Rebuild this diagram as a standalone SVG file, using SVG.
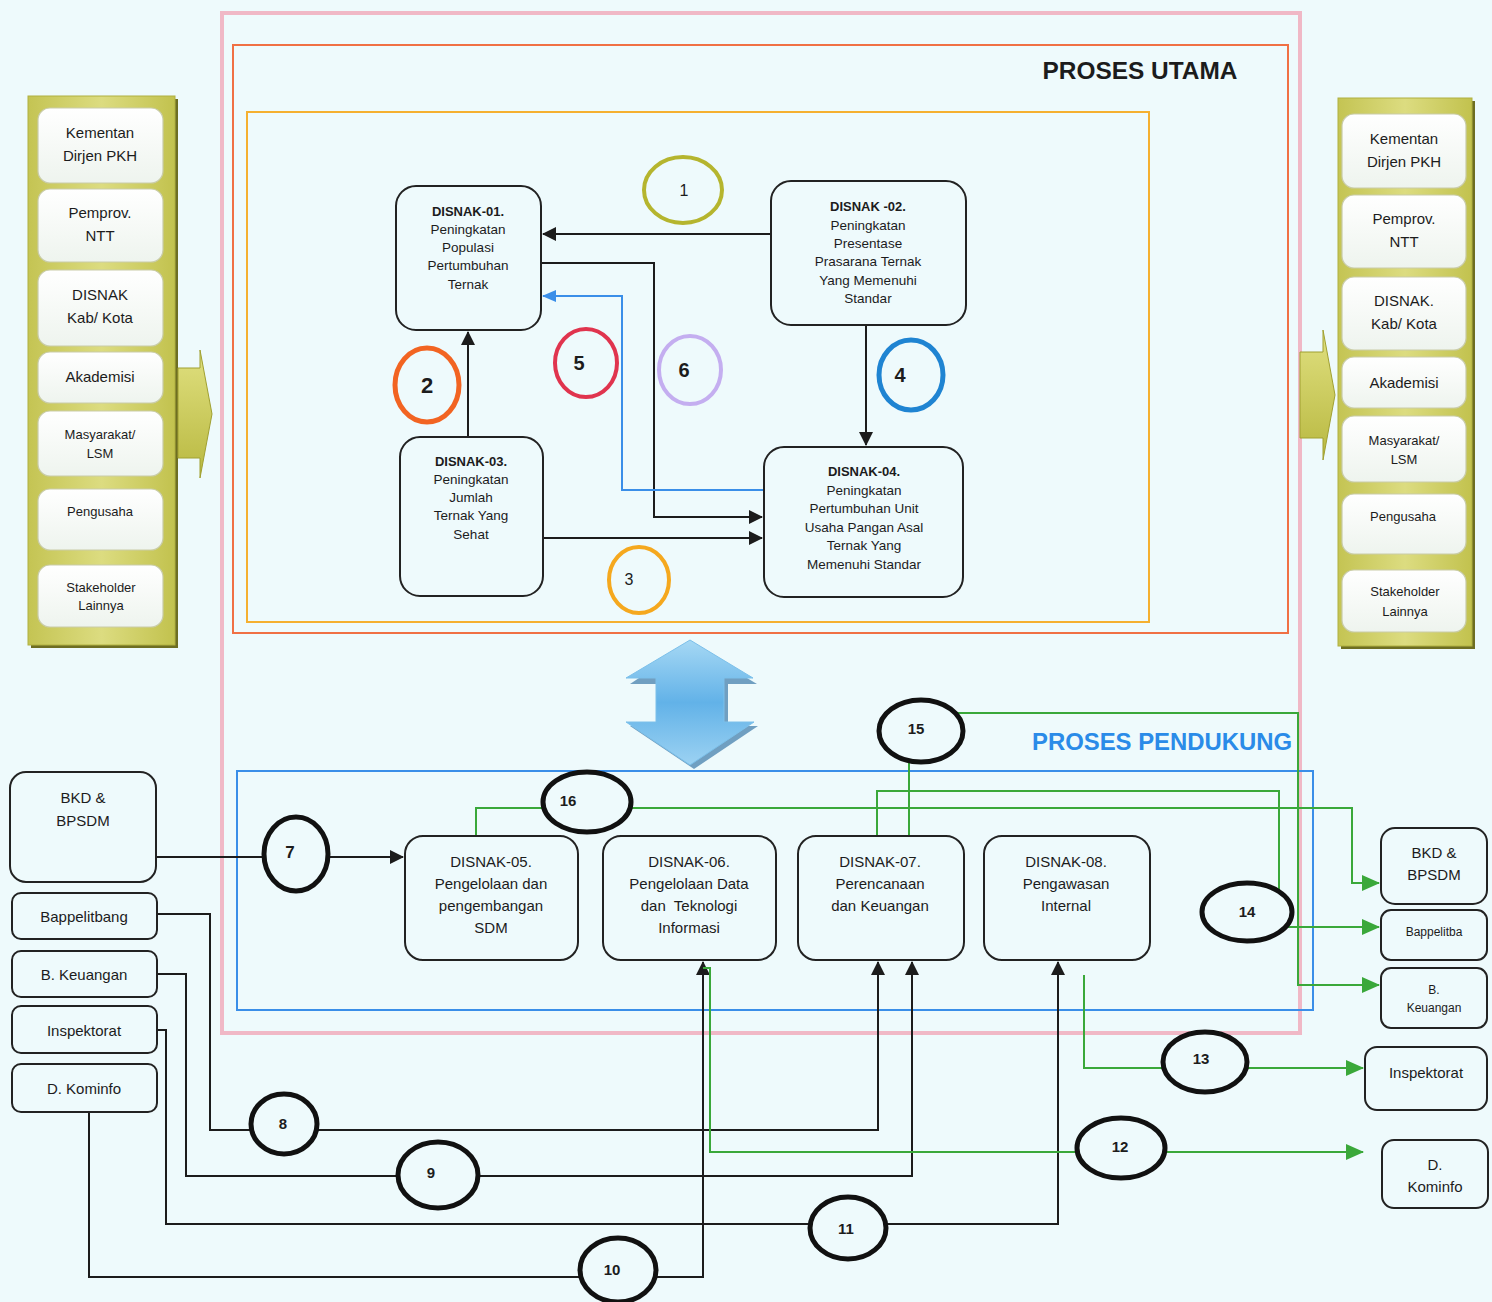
<svg xmlns="http://www.w3.org/2000/svg" width="1492" height="1302" viewBox="0 0 1492 1302">
<defs>
<style>
.t{font-family:"Liberation Sans",Arial,sans-serif;fill:#1c1c1c;text-anchor:middle}
.b{font-weight:bold}
.node{fill:#eefafc;stroke:#222;stroke-width:2}
.side{fill:url(#boxg);stroke:#c9cca8;stroke-width:1.2}
.con{fill:none;stroke:#1c1c1c;stroke-width:2}
.gcon{fill:none;stroke:#3aa83a;stroke-width:2}
.lab{fill:#eefafc;stroke:#111;stroke-width:5}
</style>
<linearGradient id="panelg" x1="0" y1="0" x2="1" y2="0">
<stop offset="0" stop-color="#c4c453"/><stop offset="0.5" stop-color="#dcdc80"/><stop offset="1" stop-color="#c2c24e"/>
</linearGradient>
<linearGradient id="boxg" x1="0" y1="0" x2="0" y2="1">
<stop offset="0" stop-color="#ffffff"/><stop offset="1" stop-color="#eef4ee"/>
</linearGradient>
<linearGradient id="arrg" x1="0" y1="0" x2="0" y2="1">
<stop offset="0" stop-color="#a6d8f4"/><stop offset="0.5" stop-color="#62b2e8"/><stop offset="1" stop-color="#9cd2f2"/>
</linearGradient>
<linearGradient id="olg" x1="0" y1="0" x2="0" y2="1">
<stop offset="0" stop-color="#e0e080"/><stop offset="1" stop-color="#b8b840"/>
</linearGradient>
<marker id="ab" markerUnits="userSpaceOnUse" markerWidth="14" markerHeight="14" refX="13" refY="7" orient="auto">
<path d="M0,0 L14,7 L0,14 z" fill="#1c1c1c"/>
</marker>
<marker id="abl" markerUnits="userSpaceOnUse" markerWidth="14" markerHeight="12" refX="13" refY="6" orient="auto">
<path d="M0,0 L14,6 L0,12 z" fill="#3a8ee8"/>
</marker>
<marker id="ag" markerUnits="userSpaceOnUse" markerWidth="18" markerHeight="16" refX="17" refY="8" orient="auto">
<path d="M0,0 L18,8 L0,16 z" fill="#3aa83a"/>
</marker>
</defs>
<rect x="0" y="0" width="1492" height="1302" fill="#eefafc"/>

<g id="frames">
<rect x="222" y="13" width="1078" height="1020" fill="none" stroke="#f0b8c6" stroke-width="4"/>
<rect x="233" y="45" width="1055" height="588" fill="none" stroke="#f07044" stroke-width="2"/>
<rect x="247" y="112" width="902" height="510" fill="none" stroke="#f5b030" stroke-width="2"/>
<rect x="237" y="771" width="1076" height="239" fill="none" stroke="#3a8ee8" stroke-width="2"/>
<text class="t b" x="1140" y="79" font-size="24" textLength="195" lengthAdjust="spacingAndGlyphs" fill="#222">PROSES UTAMA</text>
<text class="t b" x="1162" y="750" font-size="24" textLength="260" lengthAdjust="spacingAndGlyphs" style="fill:#2a8be8">PROSES PENDUKUNG</text>
</g>

<g id="left-panel">
<rect x="31" y="99" width="147" height="549" fill="#6e6e22"/>
<rect x="28" y="96" width="147" height="549" fill="url(#panelg)" stroke="#b0b040" stroke-width="1"/>
<rect class="side" x="38" y="108" width="125" height="75" rx="12"/>
<rect class="side" x="38" y="189" width="125" height="73" rx="12"/>
<rect class="side" x="38" y="270" width="125" height="76" rx="12"/>
<rect class="side" x="38" y="352" width="125" height="51" rx="12"/>
<rect class="side" x="38" y="411" width="125" height="65" rx="12"/>
<rect class="side" x="38" y="489" width="125" height="61" rx="12"/>
<rect class="side" x="38" y="565" width="125" height="62" rx="12"/>
<text class="t" font-size="15" x="100" y="138">Kementan</text>
<text class="t" font-size="15" x="100" y="161">Dirjen PKH</text>
<text class="t" font-size="15" x="100" y="218">Pemprov.</text>
<text class="t" font-size="15" x="100" y="241">NTT</text>
<text class="t" font-size="15" x="100" y="300">DISNAK</text>
<text class="t" font-size="15" x="100" y="323">Kab/ Kota</text>
<text class="t" font-size="15" x="100" y="382">Akademisi</text>
<text class="t" font-size="13" x="100" y="439">Masyarakat/</text>
<text class="t" font-size="13" x="100" y="458">LSM</text>
<text class="t" font-size="13" x="100" y="516">Pengusaha</text>
<text class="t" font-size="13" x="101" y="592">Stakeholder</text>
<text class="t" font-size="13" x="101" y="610">Lainnya</text>
<path d="M178,368 H200 V350 L212,414 L200,478 V458 H178 Z" fill="url(#olg)" stroke="#a0a030" stroke-width="1"/>
</g>

<g id="right-panel">
<rect x="1341" y="101" width="134" height="548" fill="#6e6e22"/>
<rect x="1338" y="98" width="134" height="548" fill="url(#panelg)" stroke="#b0b040" stroke-width="1"/>
<rect class="side" x="1342" y="114" width="124" height="74" rx="12"/>
<rect class="side" x="1342" y="195" width="124" height="73" rx="12"/>
<rect class="side" x="1342" y="277" width="124" height="73" rx="12"/>
<rect class="side" x="1342" y="357" width="124" height="51" rx="12"/>
<rect class="side" x="1342" y="416" width="124" height="66" rx="12"/>
<rect class="side" x="1342" y="494" width="124" height="60" rx="12"/>
<rect class="side" x="1342" y="570" width="124" height="62" rx="12"/>
<text class="t" font-size="15" x="1404" y="144">Kementan</text>
<text class="t" font-size="15" x="1404" y="167">Dirjen PKH</text>
<text class="t" font-size="15" x="1404" y="224">Pemprov.</text>
<text class="t" font-size="15" x="1404" y="247">NTT</text>
<text class="t" font-size="15" x="1404" y="306">DISNAK.</text>
<text class="t" font-size="15" x="1404" y="329">Kab/ Kota</text>
<text class="t" font-size="15" x="1404" y="388">Akademisi</text>
<text class="t" font-size="13" x="1404" y="445">Masyarakat/</text>
<text class="t" font-size="13" x="1404" y="464">LSM</text>
<text class="t" font-size="13" x="1403" y="521">Pengusaha</text>
<text class="t" font-size="13" x="1405" y="596">Stakeholder</text>
<text class="t" font-size="13" x="1405" y="616">Lainnya</text>
<path d="M1300,352 H1323 V330 L1335,395 L1323,460 V438 H1300 Z" fill="url(#olg)" stroke="#a0a030" stroke-width="1"/>
</g>

<g id="big-arrow">
<path d="M690,644 L757,684 L728,684 L728,726 L758,726 L694,769 L630,726 L660,726 L660,684 L630,684 Z" fill="#3a78a8" opacity="0.7"/>
<path d="M690,640 L753,678 L724,678 L724,722 L754,722 L690,765 L626,722 L656,722 L656,678 L626,678 Z" fill="url(#arrg)" stroke="#7cc0ea" stroke-width="1"/>
</g>

<g id="connectors">
<path class="con" d="M771,234 H543" marker-end="url(#ab)"/>
<path class="con" d="M541,263 H654 V517 H762" marker-end="url(#ab)"/>
<path d="M764,490 H622 V296 H543" fill="none" stroke="#3a8ee8" stroke-width="2" marker-end="url(#abl)"/>
<path class="con" d="M468,437 V332" marker-end="url(#ab)"/>
<path class="con" d="M543,538 H762" marker-end="url(#ab)"/>
<path class="con" d="M866,325 V445" marker-end="url(#ab)"/>

<path class="con" d="M156,857 H403" marker-end="url(#ab)"/>
<path class="con" d="M157,914 H210 V1130 H878 V962" marker-end="url(#ab)"/>
<path class="con" d="M157,974 H186 V1176 H912 V962" marker-end="url(#ab)"/>
<path class="con" d="M157,1030 H166 V1224 H1058 V962" marker-end="url(#ab)"/>
<path class="con" d="M89,1112 V1277 H703 V962" marker-end="url(#ab)"/>

<path class="gcon" d="M703,968 H710 V1152 H1363" marker-end="url(#ag)"/>
<path class="gcon" d="M1084,975 V1068 H1363" marker-end="url(#ag)"/>
<path class="gcon" d="M909,836 V713 H1298 V985 H1379" marker-end="url(#ag)"/>
<path class="gcon" d="M877,836 V791 H1279 V927 H1379" marker-end="url(#ag)"/>
<path class="gcon" d="M476,836 V808 H1352 V883 H1379" marker-end="url(#ag)"/>
</g>

<g id="disnak-01">
<rect class="node" x="396" y="186" width="145" height="144" rx="20"/>
<text class="t b" font-size="13" x="468" y="216">DISNAK-01.</text>
<text class="t" font-size="13.5" x="468" y="234">Peningkatan</text>
<text class="t" font-size="13.5" x="468" y="252">Populasi</text>
<text class="t" font-size="13.5" x="468" y="270">Pertumbuhan</text>
<text class="t" font-size="13.5" x="468" y="289">Ternak</text>
</g>
<g id="disnak-02">
<rect class="node" x="771" y="181" width="195" height="144" rx="20"/>
<text class="t b" font-size="13" x="868" y="211">DISNAK -02.</text>
<text class="t" font-size="13.5" x="868" y="230">Peningkatan</text>
<text class="t" font-size="13.5" x="868" y="248">Presentase</text>
<text class="t" font-size="13.5" x="868" y="266">Prasarana Ternak</text>
<text class="t" font-size="13.5" x="868" y="285">Yang Memenuhi</text>
<text class="t" font-size="13.5" x="868" y="303">Standar</text>
</g>
<g id="disnak-03">
<rect class="node" x="400" y="437" width="143" height="159" rx="20"/>
<text class="t b" font-size="13" x="471" y="466">DISNAK-03.</text>
<text class="t" font-size="13.5" x="471" y="484">Peningkatan</text>
<text class="t" font-size="13.5" x="471" y="502">Jumlah</text>
<text class="t" font-size="13.5" x="471" y="520">Ternak Yang</text>
<text class="t" font-size="13.5" x="471" y="539">Sehat</text>
</g>
<g id="disnak-04">
<rect class="node" x="764" y="447" width="199" height="150" rx="20"/>
<text class="t b" font-size="13" x="864" y="476">DISNAK-04.</text>
<text class="t" font-size="13.5" x="864" y="495">Peningkatan</text>
<text class="t" font-size="13.5" x="864" y="513">Pertumbuhan Unit</text>
<text class="t" font-size="13.5" x="864" y="532">Usaha Pangan Asal</text>
<text class="t" font-size="13.5" x="864" y="550">Ternak Yang</text>
<text class="t" font-size="13.5" x="864" y="569">Memenuhi Standar</text>
</g>

<g id="disnak-05">
<rect class="node" x="405" y="836" width="173" height="124" rx="18"/>
<text class="t" font-size="15" x="491" y="867">DISNAK-05.</text>
<text class="t" font-size="15" x="491" y="889">Pengelolaan dan</text>
<text class="t" font-size="15" x="491" y="911">pengembangan</text>
<text class="t" font-size="15" x="491" y="933">SDM</text>
</g>
<g id="disnak-06">
<rect class="node" x="603" y="836" width="173" height="124" rx="18"/>
<text class="t" font-size="15" x="689" y="867">DISNAK-06.</text>
<text class="t" font-size="15" x="689" y="889">Pengelolaan Data</text>
<text class="t" font-size="15" x="689" y="911" xml:space="preserve">dan  Teknologi</text>
<text class="t" font-size="15" x="689" y="933">Informasi</text>
</g>
<g id="disnak-07">
<rect class="node" x="798" y="836" width="166" height="124" rx="18"/>
<text class="t" font-size="15" x="880" y="867">DISNAK-07.</text>
<text class="t" font-size="15" x="880" y="889">Perencanaan</text>
<text class="t" font-size="15" x="880" y="911">dan Keuangan</text>
</g>
<g id="disnak-08">
<rect class="node" x="984" y="836" width="166" height="124" rx="18"/>
<text class="t" font-size="15" x="1066" y="867">DISNAK-08.</text>
<text class="t" font-size="15" x="1066" y="889">Pengawasan</text>
<text class="t" font-size="15" x="1066" y="911">Internal</text>
</g>

<g id="ext-left">
<rect class="node" x="10" y="772" width="146" height="110" rx="16"/>
<text class="t" font-size="15" x="83" y="803">BKD &amp;</text>
<text class="t" font-size="15" x="83" y="826">BPSDM</text>
<rect class="node" x="12" y="893" width="145" height="46" rx="9"/>
<text class="t" font-size="15" x="84" y="922">Bappelitbang</text>
<rect class="node" x="12" y="951" width="145" height="46" rx="9"/>
<text class="t" font-size="15" x="84" y="980">B. Keuangan</text>
<rect class="node" x="12" y="1006" width="145" height="47" rx="9"/>
<text class="t" font-size="15" x="84" y="1036">Inspektorat</text>
<rect class="node" x="12" y="1064" width="145" height="48" rx="9"/>
<text class="t" font-size="15" x="84" y="1094">D. Kominfo</text>
</g>

<g id="ext-right">
<rect class="node" x="1381" y="828" width="106" height="76" rx="14"/>
<text class="t" font-size="15" x="1434" y="858">BKD &amp;</text>
<text class="t" font-size="15" x="1434" y="880">BPSDM</text>
<rect class="node" x="1381" y="910" width="106" height="50" rx="10"/>
<text class="t" font-size="12" x="1434" y="936">Bappelitba</text>
<rect class="node" x="1381" y="968" width="106" height="60" rx="10"/>
<text class="t" font-size="12" x="1434" y="994">B.</text>
<text class="t" font-size="12" x="1434" y="1012">Keuangan</text>
<rect class="node" x="1365" y="1047" width="122" height="63" rx="12"/>
<text class="t" font-size="15" x="1426" y="1078">Inspektorat</text>
<rect class="node" x="1382" y="1140" width="106" height="68" rx="12"/>
<text class="t" font-size="15" x="1435" y="1170">D.</text>
<text class="t" font-size="15" x="1435" y="1192">Kominfo</text>
</g>

<g id="labels">
<ellipse cx="683" cy="190" rx="39" ry="33" fill="#eefafc" stroke="#b5b52e" stroke-width="4"/>
<text class="t" font-size="16" x="684" y="196">1</text>
<ellipse cx="427" cy="385" rx="32" ry="37" fill="#eefafc" stroke="#f26422" stroke-width="5"/>
<text class="t b" font-size="22" x="427" y="393">2</text>
<ellipse cx="639" cy="580" rx="30" ry="33" fill="#eefafc" stroke="#f5a81e" stroke-width="4"/>
<text class="t" font-size="16" x="629" y="585">3</text>
<ellipse cx="911" cy="375" rx="32" ry="35" fill="#eefafc" stroke="#1f84d2" stroke-width="5"/>
<text class="t b" font-size="20" x="900" y="382">4</text>
<ellipse cx="586" cy="363" rx="31" ry="34" fill="#eefafc" stroke="#e0344e" stroke-width="4"/>
<text class="t b" font-size="20" x="579" y="370">5</text>
<ellipse cx="690" cy="370" rx="31" ry="34" fill="#eefafc" stroke="#c4aef0" stroke-width="4"/>
<text class="t b" font-size="20" x="684" y="377">6</text>

<ellipse class="lab" cx="296" cy="854" rx="32" ry="37"/>
<text class="t b" font-size="17" x="290" y="858">7</text>
<ellipse class="lab" cx="284" cy="1124" rx="33" ry="30"/>
<text class="t b" font-size="15" x="283" y="1129">8</text>
<ellipse class="lab" cx="438" cy="1175" rx="40" ry="33"/>
<text class="t b" font-size="15" x="431" y="1178">9</text>
<ellipse class="lab" cx="618" cy="1270" rx="38" ry="32"/>
<text class="t b" font-size="15" x="612" y="1275">10</text>
<ellipse class="lab" cx="848" cy="1228" rx="38" ry="31"/>
<text class="t b" font-size="15" x="846" y="1234">11</text>
<ellipse class="lab" cx="1121" cy="1148" rx="44" ry="30"/>
<text class="t b" font-size="15" x="1120" y="1152">12</text>
<ellipse class="lab" cx="1205" cy="1062" rx="42" ry="30"/>
<text class="t b" font-size="15" x="1201" y="1064">13</text>
<ellipse class="lab" cx="1247" cy="912" rx="45" ry="29"/>
<text class="t b" font-size="15" x="1247" y="917">14</text>
<ellipse class="lab" cx="921" cy="731" rx="42" ry="31"/>
<text class="t b" font-size="15" x="916" y="734">15</text>
<ellipse class="lab" cx="587" cy="802" rx="44" ry="30"/>
<text class="t b" font-size="15" x="568" y="806">16</text>
</g>
</svg>
